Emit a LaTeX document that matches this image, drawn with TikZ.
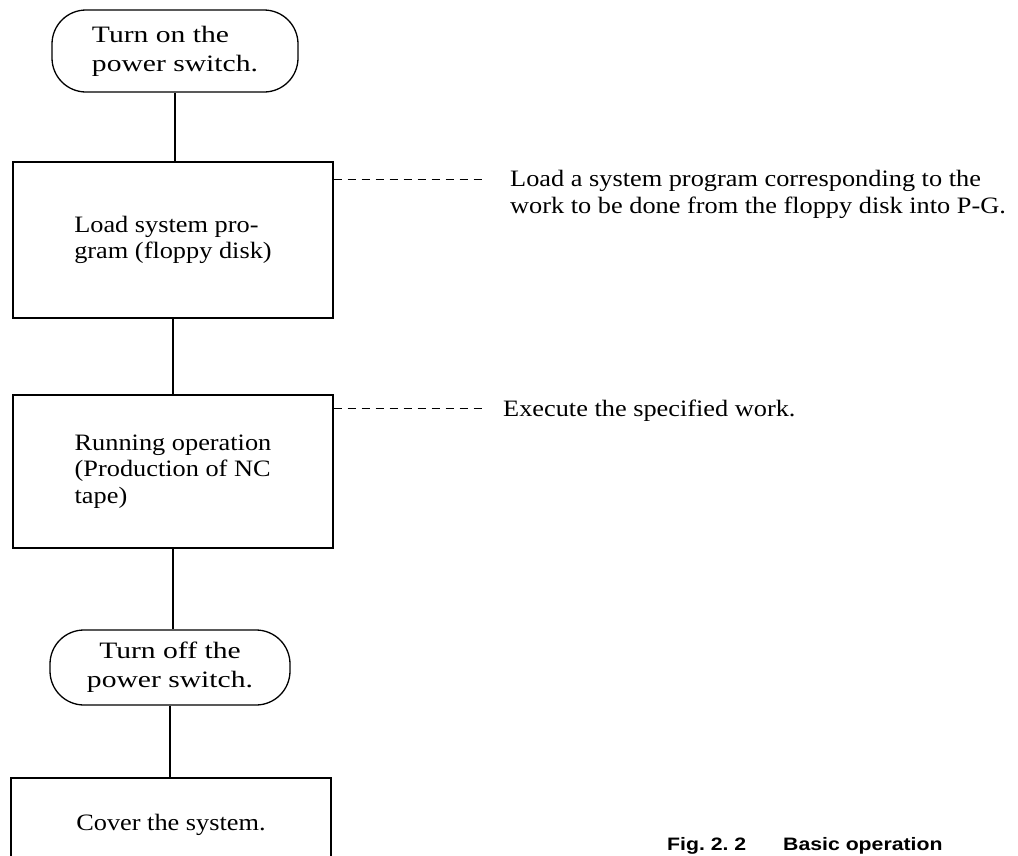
\documentclass[tikz,border=0pt]{standalone}
\usepackage{fontspec}
\setmainfont[FakeStretch=1.12]{Liberation Serif}
\newfontfamily\termfont[FakeStretch=1.26]{Liberation Serif}
\newfontfamily\capfont[FakeStretch=1.18]{Liberation Sans}
\begin{document}
\begin{tikzpicture}[x=1pt,y=-1pt,
  every node/.style={font=\fontsize{23.5}{26.5}\selectfont},
  proc/.style={draw, line width=1.3pt, rectangle, align=left, inner sep=0pt},
  term/.style={draw, line width=1.3pt, rounded corners=34pt, inner sep=0pt,
               font=\termfont\fontsize{23.5}{29}\selectfont},
  link/.style={line width=1.3pt},
  leader/.style={line width=1pt, dash pattern=on 8pt off 6pt},
  note/.style={align=left, inner sep=0pt, anchor=base west}]
\useasboundingbox[fill=white] (0,0) rectangle (1018,855);

\node[term, align=left, minimum width=246pt, minimum height=82pt] (t1) at (175,51) {Turn on the\\power switch.};
\node[proc, minimum width=320pt, minimum height=156pt] (b1) at (173,240) {Load system pro-\\gram (floppy disk)};
\node[proc, minimum width=320pt, minimum height=153pt] (b2) at (173,471.5) {Running operation\\(Production of NC\\tape)};
\node[term, align=center, minimum width=240pt, minimum height=75pt] (t2) at (170,667.5) {Turn off the\\power switch.};
\node[proc, minimum width=320pt, minimum height=94pt] (b3) at (171,825) {Cover the system.};

\draw[link] (t1.south) -- (t1.south |- b1.north);
\draw[link] (b1.south) -- (b1.south |- b2.north);
\draw[link] (b2.south) -- (b2.south |- t2.north);
\draw[link] (t2.south) -- (t2.south |- b3.north);

\coordinate (d1) at (485,179);
\draw[leader] (b1.east |- d1) -- (d1);
\node[note] (n1) at (510,213) {Load a system program corresponding to the\\work to be done from the floppy disk into P-G.};
\coordinate (d2) at (483,408);
\draw[leader] (b2.east |- d2) -- (d2);
\node[note] (n2) at (503,416) {Execute the specified work.};

\node[inner sep=0pt, anchor=base west, font=\capfont\bfseries\fontsize{18}{20}\selectfont] (cap) at (667,850) {\makebox[116pt][l]{Fig.~2.~2}Basic operation};
\end{tikzpicture}
\end{document}
